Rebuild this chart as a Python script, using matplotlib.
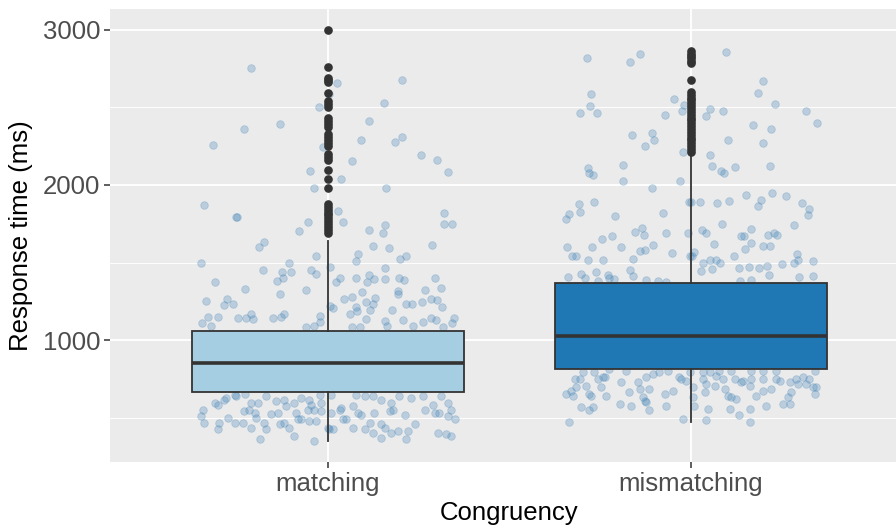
import numpy as np
import matplotlib
matplotlib.use("Agg")
import matplotlib.pyplot as plt

plt.rcParams['font.family'] = ['Liberation Sans', 'DejaVu Sans']

#%% data
categories = ['matching', 'mismatching']
box_fill = ['#a6cee3', '#1f78b4']

# box statistics (ms)
q1 = [667, 818]
median = [852, 1028]
q3 = [1062, 1372]
whisker_low = [350, 472]
whisker_high = [1640, 2195]

matching_outliers = [3000, 2758, 2686, 2673, 2660, 2590, 2538, 2519, 2500,
                     2429, 2410, 2391, 2372, 2327, 2308, 2288, 2269, 2250,
                     2199, 2179, 2160, 2096, 2038, 1981, 1878, 1860, 1842,
                     1823, 1804, 1785, 1766, 1747, 1728, 1709, 1690]
mismatching_outliers = [2861, 2845, 2830, 2815, 2800, 2786, 2673, 2600, 2582,
                        2563, 2545, 2526, 2508, 2490, 2471, 2453, 2434, 2416,
                        2398, 2379, 2361, 2342, 2324, 2305, 2287, 2268, 2250,
                        2231, 2212]

# jittered raw points: (offset from category centre, response time)
matching_points = [
    (-0.213, 2754), (-0.025, 2504), (-0.232, 2359), (-0.133, 2391), (-0.317, 2260),
    (-0.014, 2246), (-0.049, 2092), (-0.037, 1978), (-0.342, 1869), (-0.253, 1795),
    (-0.250, 1797), (-0.054, 1760), (-0.079, 1703), (-0.175, 1635), (-0.190, 1600),
    (-0.034, 1542), (-0.349, 1500), (-0.107, 1500), (-0.178, 1455), (-0.126, 1442),
    (-0.102, 1442), (-0.046, 1451), (-0.034, 1425), (-0.125, 1404), (-0.140, 1382),
    (-0.312, 1374), (-0.228, 1333), (-0.060, 1327), (-0.131, 1301), (-0.336, 1256),
    (-0.278, 1269), (-0.285, 1228), (-0.260, 1237), (-0.331, 1151), (-0.302, 1151),
    (-0.248, 1143), (-0.225, 1143), (-0.205, 1135), (-0.211, 1173), (-0.151, 1143),
    (-0.129, 1151), (-0.122, 1173), (-0.021, 1156), (-0.348, 1109), (-0.322, 1092),
    (-0.060, 1083), (-0.039, 1092), (-0.021, 1117), (0.004, 2583),
    (0.024, 2656), (0.203, 2677), (0.155, 2526), (0.113, 2414), (0.090, 2290),
    (0.186, 2278), (0.204, 2308), (0.256, 2194), (0.299, 2158), (0.331, 2083),
    (0.067, 2156), (0.035, 2036), (0.160, 1983), (0.029, 1831), (0.041, 1760),
    (0.320, 1820), (0.320, 1748), (0.343, 1752), (0.156, 1741), (0.112, 1713),
    (0.151, 1690), (0.123, 1609), (0.169, 1596), (0.287, 1617), (0.083, 1553),
    (0.078, 1508), (0.199, 1526), (0.216, 1545), (0.006, 1470), (0.156, 1468),
    (0.034, 1401), (0.023, 1376), (0.078, 1404), (0.113, 1421), (0.127, 1395),
    (0.109, 1378), (0.158, 1397), (0.197, 1399), (0.209, 1391), (0.295, 1404),
    (0.311, 1337), (0.267, 1324), (0.192, 1318), (0.193, 1297), (0.095, 1314),
    (0.043, 1269), (0.067, 1279), (0.130, 1273), (0.104, 1244), (0.125, 1237),
    (0.215, 1237), (0.231, 1237), (0.258, 1246), (0.285, 1267), (0.300, 1263),
    (0.006, 1222), (0.015, 1207), (0.076, 1215), (0.081, 1186), (0.116, 1194),
    (0.177, 1194), (0.315, 1212), (0.061, 1169), (0.105, 1139), (0.156, 1122),
    (0.208, 1130), (0.263, 1117), (0.285, 1141), (0.298, 1130), (0.348, 1141),
    (0.343, 1113), (0.065, 1083), (0.089, 1083), (0.164, 1092), (0.234, 1092),
    (0.318, 1083),
    (-0.312, 594), (-0.303, 587), (-0.285, 619), (-0.280, 630), (-0.257, 651),
    (-0.253, 641), (-0.228, 656), (-0.211, 598), (-0.193, 598), (-0.170, 641),
    (-0.142, 609), (-0.120, 619), (-0.115, 576), (-0.092, 598), (-0.074, 630),
    (-0.051, 619), (-0.046, 587), (-0.023, 651), (-0.018, 598), (0.009, 651),
    (0.037, 566), (0.069, 576), (0.078, 651), (0.101, 641), (0.124, 641),
    (0.147, 619), (0.174, 598), (0.197, 641), (0.229, 630), (0.262, 641),
    (0.289, 587), (0.312, 641), (0.330, 598), (-0.344, 555), (-0.349, 512),
    (-0.340, 470), (-0.299, 470), (-0.303, 427), (-0.276, 502), (-0.257, 470),
    (-0.234, 470), (-0.230, 544), (-0.216, 555), (-0.202, 534), (-0.198, 502),
    (-0.175, 470), (-0.170, 427), (-0.156, 527), (-0.138, 534), (-0.133, 459),
    (-0.120, 470), (-0.106, 438), (-0.087, 534), (-0.083, 491), (-0.074, 491),
    (-0.055, 555), (-0.051, 480), (-0.032, 480), (-0.037, 555), (-0.018, 544),
    (0.000, 438), (0.009, 534), (0.014, 427), (0.032, 555), (0.041, 491),
    (0.050, 491), (0.069, 438), (0.083, 534), (0.092, 523), (0.101, 427),
    (0.115, 470), (0.128, 534), (0.147, 459), (0.156, 438), (0.170, 544),
    (0.179, 555), (0.193, 416), (0.211, 523), (0.220, 416), (0.239, 459),
    (0.266, 555), (0.294, 534), (0.307, 534), (0.330, 512), (0.340, 555),
    (0.349, 491), (0.303, 406), (0.326, 395), (0.340, 384), (-0.188, 363),
    (-0.092, 384), (-0.037, 352), (0.004, 427), (0.124, 406), (0.147, 374),
    (0.174, 406), (0.216, 363), (-0.211, 438),
]

mismatching_points = [
    (-0.286, 2816), (-0.167, 2793), (-0.142, 2840), (-0.276, 2583), (-0.279, 2510),
    (-0.307, 2466), (-0.259, 2461), (-0.048, 2553), (-0.020, 2515), (-0.025, 2476),
    (-0.072, 2451), (-0.162, 2320), (-0.108, 2337), (-0.101, 2290), (-0.127, 2254),
    (-0.023, 2211), (-0.285, 2107), (-0.282, 2077), (-0.269, 2062), (-0.188, 2126),
    (-0.188, 2027), (-0.030, 2027), (-0.108, 1978), (-0.308, 1880), (-0.268, 1889),
    (-0.336, 1816), (-0.344, 1782), (-0.307, 1829), (-0.210, 1801), (-0.076, 1820),
    (-0.005, 1893), (-0.134, 1724), (-0.154, 1700), (-0.131, 1679), (-0.069, 1688),
    (-0.009, 1688), (-0.219, 1671), (-0.246, 1654), (-0.342, 1604), (-0.274, 1600),
    (-0.194, 1598), (-0.104, 1611), (-0.142, 1574), (-0.127, 1583), (-0.053, 1562),
    (-0.329, 1542), (-0.316, 1542), (-0.283, 1519), (-0.243, 1515), (-0.160, 1523),
    (-0.002, 1540), (-0.168, 1455), (-0.262, 1442), (-0.303, 1425), (-0.340, 1408),
    (-0.291, 1403), (-0.160, 1416), (-0.230, 1418), (-0.211, 1395), (-0.225, 1399),
    (-0.257, 1382), (-0.124, 1391), (-0.092, 1382), (-0.069, 1374),
    (0.097, 2854), (0.198, 2671), (0.185, 2592), (0.232, 2523), (0.053, 2489),
    (0.042, 2446), (0.089, 2474), (0.317, 2478), (0.347, 2401), (0.170, 2389),
    (0.221, 2359), (0.101, 2290), (0.199, 2273), (0.053, 2192), (0.058, 2124),
    (0.083, 2092), (0.091, 2079), (0.120, 2117), (0.217, 2124), (0.001, 1891),
    (0.025, 1891), (0.071, 1886), (0.105, 1897), (0.152, 1933), (0.193, 1906),
    (0.183, 1863), (0.224, 1950), (0.261, 1931), (0.306, 1882), (0.326, 1844),
    (0.321, 1807), (0.085, 1752), (0.282, 1743), (0.030, 1709), (0.040, 1690),
    (0.164, 1715), (0.138, 1675), (0.146, 1673), (0.212, 1681), (0.227, 1694),
    (0.237, 1679), (0.062, 1621), (0.166, 1624), (0.197, 1609), (0.217, 1609),
    (0.149, 1585), (0.009, 1572), (0.002, 1540), (0.119, 1540), (0.291, 1557),
    (0.294, 1515), (0.283, 1500), (0.336, 1508), (0.033, 1500), (0.053, 1519),
    (0.069, 1515), (0.080, 1498), (0.028, 1446), (0.057, 1459), (0.131, 1463),
    (0.159, 1474), (0.186, 1468), (0.209, 1480), (0.249, 1491), (0.214, 1418),
    (0.298, 1408), (0.336, 1416), (0.136, 1380), (0.166, 1391),
    (-0.321, 752), (-0.307, 752), (-0.317, 698), (-0.330, 677), (-0.344, 656),
    (-0.326, 645), (-0.289, 709), (-0.280, 656), (-0.275, 645), (-0.266, 795),
    (-0.257, 752), (-0.243, 763), (-0.238, 763), (-0.248, 698), (-0.234, 645),
    (-0.193, 730), (-0.170, 666), (-0.147, 730), (-0.142, 688), (-0.133, 634),
    (-0.128, 613), (-0.124, 602), (-0.124, 763), (-0.105, 784), (-0.115, 688),
    (-0.087, 795), (-0.073, 656), (-0.064, 805), (-0.050, 677), (-0.032, 763),
    (-0.027, 752), (-0.014, 741), (0.005, 698), (0.005, 634), (0.032, 752),
    (0.032, 795), (0.037, 666), (0.042, 720), (0.065, 709), (0.069, 773),
    (0.088, 752), (0.092, 688), (0.101, 645), (0.110, 634), (0.120, 752),
    (0.124, 624), (0.138, 730), (0.143, 741), (0.161, 709), (0.166, 752),
    (0.179, 645), (0.198, 752), (0.198, 677), (0.221, 688), (0.234, 752),
    (0.244, 741), (0.271, 730), (0.276, 666), (0.290, 752), (0.294, 720),
    (0.317, 720), (0.326, 752), (0.335, 698), (0.345, 698), (0.340, 656),
    (0.267, 634), (0.253, 592), (0.271, 592), (0.161, 560), (0.207, 581),
    (0.106, 560), (0.046, 560), (0.009, 581), (-0.069, 581), (-0.115, 549),
    (-0.165, 581), (-0.197, 592), (-0.271, 570), (-0.280, 549), (-0.303, 570),
    (-0.335, 474), (-0.023, 495), (0.042, 485), (0.133, 523), (0.161, 478),
    (0.340, 805), (0.308, 763), (0.234, 805), (0.198, 805), (0.166, 805),
    (0.110, 805), (0.078, 805), (0.051, 795), (-0.004, 795), (-0.179, 805),
    (-0.225, 816), (-0.298, 795),
]

#%% figure
fig = plt.figure(figsize=(8.96, 5.25), dpi=100)
ax = fig.add_axes([110 / 896, 1 - 462 / 525, 799 / 896, 453 / 525])
ax.set_facecolor('#EBEBEB')
for s in ax.spines.values():
    s.set_visible(False)

ax.set_xlim(0.4, 2.6)
ax.set_ylim(217.5, 3132.5)

# grid ggplot風
ax.set_yticks([1000, 2000, 3000])
ax.set_yticks([500, 1500, 2500], minor=True)
ax.set_xticks([1, 2])
ax.grid(which='major', color='white', linewidth=1.3, zorder=0)
ax.grid(which='minor', axis='y', color='white', linewidth=0.65, zorder=0)
ax.set_axisbelow(True)

# jittered raw points
for i, pts in enumerate([matching_points, mismatching_points]):
    arr = np.array(pts, dtype=float)
    ax.scatter(i + 1 + arr[:, 0], arr[:, 1], s=30, color='#3a7fb5',
               alpha=0.27, linewidths=0.6, edgecolors='#3a7fb5', zorder=2)

# boxes
stats = []
for i, fl in enumerate([matching_outliers, mismatching_outliers]):
    stats.append(dict(med=median[i], q1=q1[i], q3=q3[i],
                      whislo=whisker_low[i], whishi=whisker_high[i],
                      fliers=fl))
bp = ax.bxp(stats, positions=[1, 2], widths=0.75, patch_artist=True,
            showcaps=False, manage_ticks=False,
            boxprops=dict(edgecolor='#333333', linewidth=1.3),
            whiskerprops=dict(color='#333333', linewidth=1.3),
            medianprops=dict(color='#333333', linewidth=2.6),
            flierprops=dict(marker='o', markerfacecolor='#333333',
                            markeredgecolor='#333333', markersize=5.2))
for patch, c in zip(bp['boxes'], box_fill):
    patch.set_facecolor(c)
    patch.set_zorder(3)
for key in ['whiskers', 'medians', 'fliers']:
    for artist in bp[key]:
        artist.set_zorder(4)

ax.set_xticklabels(categories)
ax.tick_params(axis='both', which='major', length=4, width=1.1, color='#333333',
               labelsize=18.5, labelcolor='#4D4D4D', pad=3)
ax.tick_params(axis='both', which='minor', length=0)
ax.set_xlabel('Congruency', fontsize=18.5, color='black', labelpad=4)
ax.set_ylabel('Response time (ms)', fontsize=18.5, color='black', labelpad=7)

fig.savefig('out.png', dpi=100)
